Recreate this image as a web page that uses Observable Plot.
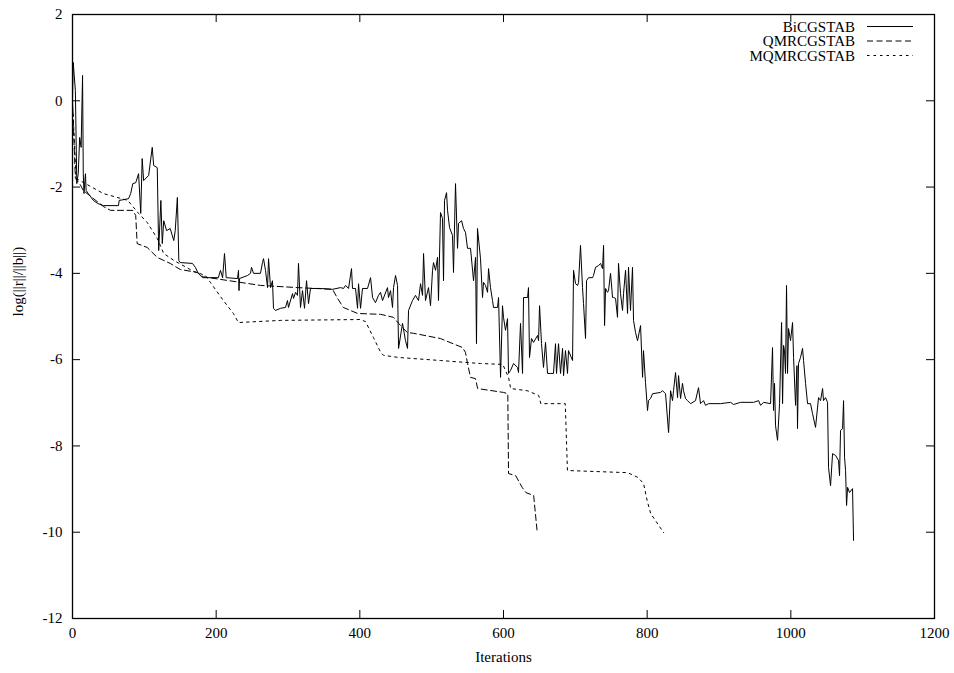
<!DOCTYPE html>
<html><head><meta charset="utf-8">
<script src="https://cdn.jsdelivr.net/npm/d3@7"></script>
<script src="https://cdn.jsdelivr.net/npm/@observablehq/plot@0.6"></script>
<style>
body{margin:0;background:#fff;}
#wrap{position:relative;width:954px;height:673px;}
#wrap svg text{font-family:'Liberation Serif','Times New Roman',Times,serif;}
#legend{position:absolute;left:0;top:0;pointer-events:none;}
</style></head><body><div id="wrap"></div>
<script>
// Series names
const seriesNames = ["BiCGSTAB", "QMRCGSTAB", "MQMRCGSTAB"];

// BiCGSTAB: [iteration, log(||r||/||b||)]
const bicgstab = [
 [0,0],[1,0.89],[4,0.24],[6,-1.92],[8,-1.69],[10,-0.85],[12,-1.08],[14,0.59],[15,-1.69],[16,-2.15],
 [18,-1.69],[19,-2.08],[22,-2.15],[29,-2.31],[35,-2.38],[43,-2.43],[64,-2.43],[65,-2.31],[78,-2.27],
 [81,-2.15],[84,-1.92],[88,-1.90],[92,-1.69],[95,-2.61],[97,-1.34],[99,-1.85],[106,-1.73],[111,-1.08],
 [113,-1.50],[118,-1.55],[120,-3.47],[123,-2.31],[125,-3.31],[127,-2.78],[131,-3.01],[136,-2.96],
 [141,-3.24],[143,-3.01],[146,-2.24],[148,-3.70],[150,-3.75],[167,-3.77],[171,-3.86],[175,-4.00],
 [181,-4.10],[203,-4.10],[206,-3.93],[209,-4.10],[211.6,-3.54],[214,-4.10],[229.7,-4.12],[231.1,-3.93],
 [231.8,-4.40],[232.5,-4.12],[243.6,-4.05],[247.8,-4.00],[249.2,-3.86],[252,-4.00],[261.7,-4.00],
 [264.5,-3.75],[265.9,-3.66],[268.7,-3.93],[271.5,-4.33],[272.9,-3.66],[275.7,-4.33],[278.4,-4.17],
 [279.8,-4.81],[282.6,-4.86],[289.6,-4.81],[296.5,-4.79],[299.3,-4.63],[300.7,-4.79],[306.3,-4.47],
 [307.7,-4.58],[310.5,-4.44],[313.2,-4.51],[314.6,-3.77],[317.4,-4.79],[320.2,-4.40],[323,-4.81],
 [325.8,-4.17],[328.6,-4.70],[331.3,-4.35],[345.3,-4.35],[362,-4.37],[373.1,-4.33],[377.3,-4.35],
 [380.1,-4.28],[384.3,-4.35],[388.4,-3.89],[389.8,-4.35],[394,-4.35],[396.8,-4.81],[398.2,-4.24],
 [401,-4.81],[403.7,-4.35],[410.7,-4.35],[414.9,-4.10],[417.7,-4.56],[421.8,-4.68],[426,-4.51],
 [428.8,-4.44],[431.6,-4.63],[438.5,-4.33],[439.9,-4.56],[442.7,-4.40],[445.5,-4.79],[446.9,-4.33],
 [449.7,-4.05],[452.5,-4.28],[453.9,-5.74],[459.4,-5.16],[463.6,-5.56],[466.4,-5.74],[467.8,-4.86],
 [473.3,-4.63],[477.5,-4.51],[481.7,-4.63],[484.5,-4.24],[487.3,-4.51],[488.7,-3.54],[491.4,-4.63],
 [495.6,-4.33],[498.4,-4.75],[501.2,-3.93],[502.6,-3.75],[505.4,-3.93],[508.2,-3.63],[509.5,-4.63],
 [512.3,-2.59],[515.1,-2.73],[516.5,-4.17],[517.9,-2.31],[520.7,-2.13],[522.1,-2.54],[524.9,-2.94],
 [529,-3.12],[530.4,-3.98],[533.2,-1.92],[536,-3.42],[537.4,-2.84],[541.6,-2.78],[544.3,-2.96],
 [547.1,-3.05],[549.9,-3.42],[554.1,-3.42],[558.3,-4.17],[561.1,-3.63],[562.4,-5.63],[563.8,-2.96],
 [568,-3.66],[570.8,-4.56],[572.2,-4.21],[575,-4.28],[577.8,-4.44],[579.2,-3.89],[581.9,-4.33],
 [584.7,-4.63],[586.1,-4.79],[591.7,-4.79],[593.1,-4.56],[595.9,-6.41],[598.6,-4.75],[600,-5.02],
 [602.8,-5.32],[605.6,-5.05],[607,-6.32],[609.8,-6.25],[614,-6.09],[619.5,-6.18],[620.9,-6.30],
 [623.7,-5.16],[626.5,-6.32],[627.9,-4.56],[633.5,-4.56],[634.8,-4.33],[636.2,-5.95],[639,-5.51],
 [641.8,-5.60],[647.4,-5.44],[648.8,-5.56],[650.2,-4.75],[652.9,-5.63],[655.7,-6.18],[658.5,-5.60],
 [661.3,-6.32],[665.5,-6.32],[669.6,-6.32],[672.4,-5.63],[673.8,-6.32],[676.6,-5.63],[679.4,-6.32],
 [682.2,-5.74],[683.6,-6.37],[686.3,-5.79],[689.1,-6.32],[690.5,-5.79],[696.1,-6.02],[697.5,-3.93],
 [700.3,-4.24],[703.1,-4.28],[704.5,-4.21],[707.2,-3.35],[710,-4.33],[711.4,-4.70],[714.2,-5.51],
 [715.6,-4.17],[718.4,-4.10],[723.9,-4.10],[725.3,-4.05],[728.1,-3.86],[732.3,-3.82],[735.1,-3.77],
 [737.9,-3.89],[739.3,-3.35],[740.7,-5.21],[742.1,-4.35],[744.8,-4.44],[746.2,-4.40],[749,-4.00],
 [751.8,-4.56],[753.2,-4.56],[756,-4.58],[758.7,-5.02],[760.1,-3.77],[762.9,-4.47],[765.7,-4.86],
 [767.1,-4.47],[769.9,-3.93],[772.7,-4.93],[774,-3.86],[776.8,-4.86],[779.6,-3.86],[781,-5.09],
 [783.8,-5.37],[786.6,-5.56],[790.8,-5.21],[793.6,-6.41],[794.9,-5.79],[797.7,-6.53],[800.5,-7.18],
 [801.9,-6.95],[804.7,-6.90],[807.5,-6.79],[818.6,-6.76],[821.4,-6.72],[825.6,-6.79],[829.8,-7.69],
 [832.6,-6.72],[835.3,-6.95],[836.7,-6.72],[839.5,-6.30],[842.3,-6.88],[843.7,-6.37],[846.5,-6.90],
 [849.2,-6.55],[850.6,-6.72],[853.4,-6.90],[856.2,-6.95],[860.4,-7.02],[867.3,-6.95],[871.5,-6.65],
 [874.3,-7.02],[878.5,-6.95],[881.3,-7.06],[885.4,-7.02],[902.1,-7.02],[916.1,-6.99],[920.2,-7.04],
 [930,-6.99],[948.1,-6.99],[955.1,-6.95],[957.9,-7.06],[962,-6.99],[971.8,-7.02],[974.5,-5.72],
 [975.9,-7.18],[977.3,-6.55],[978.7,-7.53],[981.5,-7.87],[984.3,-7.02],[987.1,-5.14],[988.5,-7.02],
 [989.9,-5.67],[991.2,-5.79],[992.6,-6.32],[994,-4.28],[995.4,-6.32],[996.8,-5.28],[999.6,-5.56],
 [1002.4,-5.14],[1003.8,-5.95],[1006.6,-7.06],[1008.5,-6.14],[1009.3,-7.60],[1010.7,-6.09],
 [1013.5,-5.95],[1016.3,-5.74],[1017.7,-6.02],[1020.5,-6.55],[1023.3,-7.02],[1027.4,-7.02],
 [1030.2,-7.25],[1034.4,-7.57],[1038.6,-6.88],[1041.4,-6.95],[1044.2,-6.67],[1045.5,-6.95],
 [1048.3,-6.88],[1051.1,-6.99],[1052.5,-8.50],[1055.3,-8.92],[1058.1,-8.18],[1062.3,-8.22],
 [1066.4,-8.34],[1067.8,-8.69],[1069.2,-7.64],[1072,-7.60],[1073.4,-6.95],[1074.8,-8.27],
 [1076.2,-8.57],[1077.6,-9.38],[1079,-8.96],[1081.7,-9.08],[1085.9,-8.99],[1087.3,-10.19]
];

// QMRCGSTAB
const qmrcgstab = [
 [0,0],[4,-1.80],[11,-1.95],[15,-2.08],[43,-2.45],[53,-2.54],[84,-2.54],[88,-2.66],[90,-3.31],
 [104,-3.40],[118,-3.63],[136,-3.77],[150,-3.91],[174,-3.98],[182,-4.08],[262,-4.28],[313,-4.33],
 [362,-4.37],[369,-4.58],[377,-4.79],[397,-4.93],[429,-4.95],[447,-5.02],[454,-5.16],[466,-5.37],
 [475,-5.39],[512,-5.51],[543,-5.72],[547,-5.83],[550,-6.09],[554,-6.41],[561,-6.44],[564,-6.67],
 [600,-6.76],[606,-6.79],[607,-8.64],[617,-8.69],[626,-8.96],[631,-9.08],[642,-9.15],[647,-10.01]
];

// MQMRCGSTAB
const mqmrcgstab = [
 [0,0],[5,-1.80],[18,-1.92],[43,-2.15],[77,-2.31],[92,-2.61],[104,-2.82],[118,-3.19],[127,-3.54],
 [141,-3.70],[168,-3.95],[185,-4.05],[192,-4.21],[210,-4.63],[224,-4.93],[231,-5.14],[290,-5.09],
 [401,-5.07],[408,-5.12],[419,-5.49],[429,-5.83],[433,-5.90],[454,-5.95],[512,-6.02],[568,-6.09],
 [599,-6.11],[607,-6.41],[610,-6.67],[633,-6.72],[649,-6.83],[652,-7.02],[686,-7.02],[689,-8.57],
 [773,-8.62],[787,-8.73],[795,-8.87],[800,-9.27],[805,-9.57],[823,-10.01]
];

// Tick values
const xTicks = [0, 200, 400, 600, 800, 1000, 1200];
const yTicks = [-12, -10, -8, -6, -4, -2, 0, 2];
const xLabel = "Iterations";
const yLabel = "log(||r||/||b||)";

const dashes = ["none", "6,3.5", "2.5,4"];
const font = "'Liberation Serif','Times New Roman',Times,serif";

const W = 954, H = 673, mL = 72, mR = 20, mT = 14, mB = 55;
const frameW = W - mL - mR, frameH = H - mT - mB, tickLen = 8;

const rows = [];
[bicgstab, qmrcgstab, mqmrcgstab].forEach((s, k) => s.forEach(([i, v]) => rows.push({series: seriesNames[k], i, v})));

const chart = Plot.plot({
  width: W, height: H,
  marginLeft: mL, marginRight: mR, marginTop: mT, marginBottom: mB,
  style: `font-family: ${font}; font-size: 15px; color: black; background: white; overflow: visible;`,
  x: {domain: [0, 1200]},
  y: {domain: [-12, 2]},
  marks: [
    seriesNames.map((name, k) => Plot.line(rows.filter(d => d.series === name), {
      x: "i", y: "v", stroke: "black", strokeWidth: 1, strokeDasharray: dashes[k] === "none" ? null : dashes[k]
    })),
    // inward ticks on all four sides (gnuplot style, mirrored)
    Plot.tickX(xTicks, {x: d => d, insetTop: frameH - tickLen, stroke: "black", strokeWidth: 1}),
    Plot.tickX(xTicks, {x: d => d, insetBottom: frameH - tickLen, stroke: "black", strokeWidth: 1}),
    Plot.tickY(yTicks, {y: d => d, insetRight: frameW - tickLen, stroke: "black", strokeWidth: 1}),
    Plot.tickY(yTicks, {y: d => d, insetLeft: frameW - tickLen, stroke: "black", strokeWidth: 1}),
    Plot.axisX({anchor: "bottom", ticks: xTicks, tickSize: 0, tickPadding: 9, label: null, tickFormat: d => String(d), fontSize: 15, fontFamily: font}),
    Plot.axisY({anchor: "left", ticks: yTicks, tickSize: 0, tickPadding: 10, label: null, tickFormat: d => String(d), fontSize: 15, fontFamily: font}),
    Plot.frame({stroke: "black", strokeWidth: 1.3}),
    Plot.text([xLabel], {frameAnchor: "bottom", dy: 43, text: d => d, fontSize: 15, fontFamily: font}),
    Plot.text([yLabel], {frameAnchor: "left", dx: -54, rotate: -90, text: d => d, fontSize: 15, fontFamily: font})
  ]
});

const wrap = document.getElementById("wrap");
wrap.appendChild(chart);

// Legend overlay (inside plot frame, top-right)
const leg = d3.select(wrap).append("svg").attr("id", "legend").attr("width", W).attr("height", H);
seriesNames.forEach((name, k) => {
  const y = 26.5 + k * 14.5;
  leg.append("text").attr("x", 855).attr("y", y).attr("dy", "0.34em").attr("text-anchor", "end")
    .attr("font-family", font).attr("font-size", 15).attr("fill", "black").text(name);
  const ln = leg.append("line").attr("x1", 867).attr("x2", 913).attr("y1", y).attr("y2", y)
    .attr("stroke", "black").attr("stroke-width", 1);
  if (dashes[k] !== "none") ln.attr("stroke-dasharray", dashes[k]);
});
</script></body></html>
